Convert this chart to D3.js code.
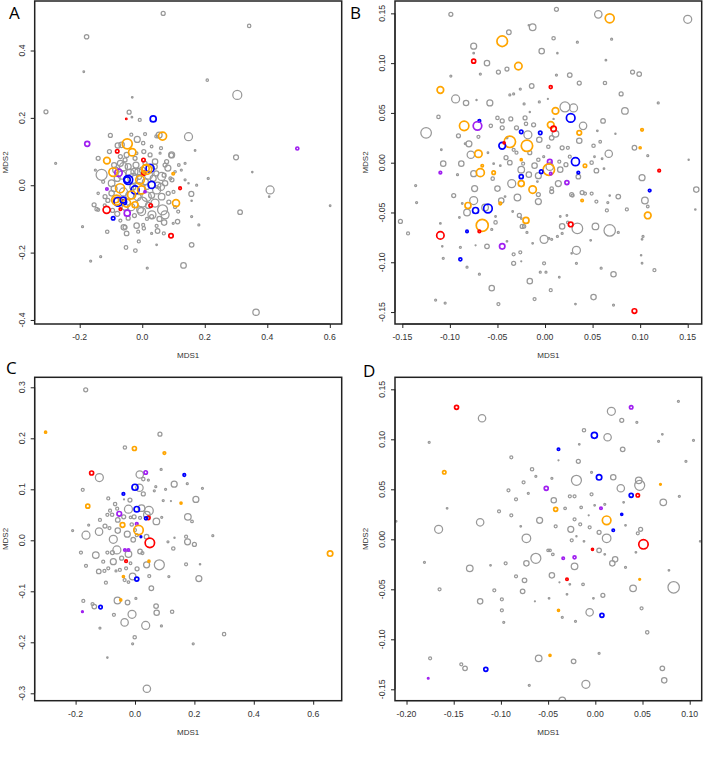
<!DOCTYPE html>
<html><head><meta charset="utf-8">
<script src="https://cdn.jsdelivr.net/npm/d3@7"></script>
<style>html,body{margin:0;padding:0;background:#fff}svg{display:block}</style>
</head><body>
<svg id="chart" width="703" height="768"></svg>
<script>
// ---------- DATA: [MDS1, MDS2, abundance, group] ----------
const groups = ["g","o","b","r","p"];
const groupColors = ["#999999","#FFA500","#0000FF","#FF0000","#A020F0"];

const ptsA = [
[0.067,0.510,2,"g"],[0.342,0.473,1.7,"g"],[-0.178,0.441,2.2,"g"],[-0.187,0.337,0.8,"g"],[0.208,0.312,1.2,"g"],[-0.032,0.261,0.8,"g"],[0.304,0.268,4.5,"g"],[-0.308,0.218,2,"g"],[-0.042,0.217,2,"g"],[-0.051,0.197,0.6,"r"],[-0.033,0.202,0.8,"g"],[-0.008,0.194,1.5,"g"],[0.035,0.197,3,"b"],[-0.176,0.123,2.5,"p"],[0.496,0.109,1.5,"p"],[-0.277,0.065,1,"g"],[0.300,0.083,2.5,"g"],[0.352,0.039,0.7,"g"],[0.211,0.020,1,"g"],[0.169,0.103,0.8,"g"],[0.148,0.144,4,"g"],[0.065,0.146,4,"o"],[0.054,0.149,3,"g"],[-0.048,0.123,5,"o"],[-0.032,0.098,3.7,"o"],[-0.102,0.148,2,"g"],[-0.016,0.136,3,"g"],[0.009,0.152,1.5,"g"],[-0.078,0.118,2.7,"g"],[-0.080,0.101,1.7,"r"],[-0.113,0.073,3.3,"o"],[-0.130,0.031,5.5,"g"],[-0.076,0.037,3.7,"p"],[-0.093,0.039,4.3,"o"],[0.004,0.075,1.7,"r"],[0.005,0.036,2,"r"],[0.025,0.050,4,"b"],[0.011,0.050,3.5,"o"],[0.099,0.034,1.2,"o"],[0.095,0.016,2,"g"],[0.078,0.070,2,"g"],[0.082,0.051,3,"g"],[0.117,0.060,1.3,"g"],[0.093,0.089,2.3,"g"],[-0.048,0.016,3,"b"],[0.409,-0.014,4,"g"],[0.157,-0.026,2.5,"g"],[0.121,-0.009,1.3,"r"],[0.148,0.006,0.7,"g"],[0.174,0.0,1,"g"],[-0.113,-0.011,1.2,"p"],[0.313,-0.080,2.3,"g"],[0.406,-0.034,0.7,"g"],[0.601,-0.061,0.8,"g"],[0.158,-0.046,0.7,"g"],[0.108,-0.053,3.5,"o"],[0.065,-0.073,5,"g"],[0.031,-0.088,4,"g"],[0.027,-0.060,1.7,"r"],[-0.002,-0.078,4,"g"],[-0.114,-0.073,3.5,"r"],[-0.048,-0.083,3,"p"],[-0.093,-0.098,1.7,"b"],[-0.070,-0.071,1.2,"r"],[-0.084,-0.044,2.7,"o"],[-0.058,-0.050,2.5,"b"],[-0.023,-0.058,3,"o"],[-0.154,-0.058,2,"g"],[-0.146,-0.071,1.7,"g"],[-0.191,-0.123,1,"g"],[-0.112,-0.138,1.7,"g"],[-0.059,-0.125,2.7,"g"],[-0.050,-0.143,2.3,"g"],[-0.018,-0.120,2.7,"g"],[0.005,-0.128,1.7,"g"],[-0.013,-0.138,1.5,"g"],[-0.011,-0.167,1.5,"g"],[0.049,-0.136,2.3,"g"],[0.030,-0.143,1,"g"],[0.070,-0.111,2.7,"g"],[0.069,-0.143,1.5,"g"],[0.113,-0.108,2.2,"g"],[0.092,-0.150,2.2,"r"],[0.181,-0.118,1,"g"],[0.158,-0.177,2.3,"g"],[0.046,-0.177,0.8,"g"],[-0.052,-0.185,1.8,"g"],[-0.022,-0.194,1.8,"g"],[-0.165,-0.225,1,"g"],[-0.133,-0.212,1,"g"],[0.016,-0.246,1,"g"],[0.132,-0.238,2.8,"g"],[0.364,-0.377,3.2,"g"],[-0.141,-0.024,1.2,"g"],
[0.014,0.047,5,"o"],[-0.045,0.016,4.5,"b"],[-0.071,-0.009,4.5,"o"],[-0.023,-0.014,4,"b"],[-0.002,-0.014,4,"o"],[0.030,0.001,3.5,"b"],[0.046,-0.014,4,"g"],[-0.007,0.016,4.3,"o"],[-0.034,-0.029,4,"o"],[-0.077,-0.049,4.3,"b"],[-0.082,-0.044,5,"o"],[-0.050,-0.053,4,"o"],[-0.061,-0.044,3,"b"],[0.009,-0.019,1,"p"],
[-0.066,0.120,2.7,"g"],[0.003,0.125,1.7,"g"],[0.030,0.115,1.3,"g"],[0.057,0.095,1,"g"],[0.094,0.090,3,"g"],[-0.018,0.095,1.3,"g"],[-0.141,0.080,2,"g"],[-0.055,0.075,2,"g"],[-0.023,0.080,2,"g"],[0.041,0.070,2.7,"g"],[0.073,0.060,2,"g"],[0.137,0.065,1,"g"],[0.009,0.065,2,"g"],[-0.039,0.036,4,"g"],[-0.013,0.040,3.3,"g"],[0.062,0.026,4,"g"],[0.073,0.006,2.7,"g"],[-0.098,0.006,3.3,"g"],[0.137,0.016,1,"g"],[-0.119,-0.034,2,"g"],[-0.098,-0.024,2.7,"g"],[0.014,-0.034,4.7,"g"],[0.062,-0.034,3.3,"g"],[0.083,-0.024,2,"g"],[0.041,-0.053,4,"g"],[-0.141,-0.073,1.5,"g"],[-0.007,-0.073,3.3,"g"],[0.073,-0.088,4,"g"],[-0.045,-0.098,2,"g"],[0.030,-0.093,2,"g"],[0.115,-0.078,1.5,"g"],[0.158,-0.093,1,"g"],[-0.055,-0.125,2,"g"],[0.003,-0.118,1.5,"g"],[0.046,-0.121,1.5,"g"],[0.099,-0.113,1,"g"],
[-0.030,0.020,5,"g"],[0.020,0.030,4,"g"],[-0.060,0.055,4,"g"],[0.000,-0.050,5,"g"],[-0.040,-0.030,4,"g"],[0.030,-0.030,3,"g"],[-0.020,0.060,3,"g"],[0.050,0.000,3,"g"],[-0.080,0.020,3,"g"],[-0.010,-0.010,6,"g"],[0.010,0.010,3,"g"],[-0.055,-0.065,3,"g"],[-0.090,0.060,2.5,"g"],[-0.070,0.085,2,"g"],[0.025,0.090,2,"g"],[0.045,0.035,2.5,"g"],[-0.110,-0.045,2,"g"],[-0.095,-0.075,2,"g"],[0.085,-0.050,2,"g"],[0.100,-0.020,1.5,"g"],[-0.025,-0.090,2,"g"],[0.015,-0.100,1.5,"g"],[-0.070,-0.105,1.5,"g"],[0.060,0.110,1.5,"g"],[-0.035,0.150,1.5,"g"],[0.105,0.040,1.2,"g"],[-0.125,0.010,1.5,"g"],[-0.150,0.045,1,"g"],[0.125,0.045,1,"g"],[0.045,0.145,1.5,"g"],
[-0.085,0.045,3,"g"],[-0.065,0.030,4,"g"],[-0.045,0.055,3,"g"],[-0.025,0.040,3.5,"g"],[0.000,0.045,3,"g"],[0.035,0.020,3,"g"],[0.060,-0.005,3.5,"g"],[-0.015,-0.035,3.5,"g"],[-0.060,-0.020,4,"g"],[-0.090,-0.010,3,"g"],[0.020,-0.060,3,"g"],[-0.035,-0.065,3.5,"g"],[0.040,0.055,2.5,"g"],[-0.050,0.090,2.5,"g"],[0.005,0.100,2,"g"],[-0.105,0.100,2,"g"],[0.070,0.030,2,"g"],[0.055,-0.100,2.5,"g"],[-0.080,-0.085,2.5,"g"],[-0.010,0.025,2.5,"g"],[0.015,-0.005,2.5,"g"],[-0.030,-0.005,3,"g"],[-0.070,0.065,3,"g"],[0.090,0.020,1.5,"g"],[0.105,-0.065,1.5,"g"],[-0.120,-0.060,1.5,"g"]
];

const ptsB = [
[-0.099,0.149,2,"g"],[0.012,0.154,2,"g"],[0.056,0.149,3.7,"g"],[0.068,0.145,4.5,"o"],[0.150,0.144,4,"g"],[-0.038,0.131,2.3,"g"],[-0.013,0.136,3.3,"g"],[-0.017,0.138,0.7,"g"],[-0.045,0.122,5.3,"o"],[-0.075,0.117,3,"g"],[-0.075,0.110,0.8,"g"],[-0.0035,0.112,2.7,"g"],[0.009,0.125,1.7,"g"],[0.034,0.121,1,"g"],[0.013,0.110,0.7,"g"],[0.070,0.124,1,"g"],[-0.075,0.102,2,"r"],[-0.061,0.100,2.7,"g"],[-0.049,0.091,2,"g"],[-0.040,0.094,2,"g"],[-0.028,0.097,3.7,"o"],[0.064,0.103,0.8,"g"],[0.092,0.091,2,"g"],[0.099,0.089,2.3,"g"],[0.026,0.088,2.3,"g"],[0.012,0.088,1,"g"],[-0.068,0.089,1,"g"],[-0.099,0.087,1,"g"],[-0.110,0.073,3.3,"o"],[-0.014,0.077,2.3,"g"],[0.006,0.076,1.5,"r"],[0.036,0.080,2,"g"],[0.063,0.080,1.7,"g"],[-0.026,0.074,1,"g"],[-0.037,0.068,1,"g"],[-0.033,0.069,1,"g"],[0.080,0.069,2,"g"],[-0.094,0.064,4,"g"],[-0.083,0.060,2.7,"g"],[-0.072,0.063,0.6,"g"],[-0.058,0.060,3,"g"],[-0.022,0.059,1,"g"],[-0.006,0.061,1,"g"],[0.003,0.064,0.5,"g"],[0.021,0.056,5,"g"],[0.030,0.055,4,"g"],[0.011,0.052,3.3,"o"],[0.084,0.052,3.3,"g"],[0.119,0.060,1,"g"],[-0.016,0.051,0.6,"g"],[-0.112,0.046,1.7,"g"],[0.027,0.045,4.3,"b"],[0.009,0.044,0.6,"g"],[0.061,0.042,2.3,"g"],[-0.069,0.042,1.3,"b"],[-0.125,0.030,5.3,"g"],[-0.085,0.037,4.7,"o"],[-0.071,0.037,4.3,"p"],[-0.057,0.037,1.7,"g"],[-0.050,0.045,1.7,"g"],[-0.045,0.042,2,"g"],[-0.036,0.044,2,"g"],[-0.030,0.035,2,"g"],[-0.020,0.039,1.7,"g"],[-0.012,0.038,2,"g"],[-0.045,0.035,2,"g"],[-0.021,0.045,2,"g"],[0.006,0.038,3.3,"o"],[0.009,0.034,2.7,"r"],[0.011,0.029,3.3,"g"],[0.040,0.037,3.7,"g"],[0.036,0.030,2.3,"o"],[0.102,0.033,1.3,"o"],[0.055,0.032,0.8,"g"],[0.074,0.029,0.6,"g"],[-0.091,0.027,2,"g"],[-0.080,0.019,3,"g"],[-0.084,0.019,0.8,"g"],[-0.070,0.026,1.5,"g"],[-0.025,0.031,1.7,"b"],[-0.005,0.030,1.7,"b"],[-0.018,0.028,4,"g"],[-0.037,0.021,5.7,"o"],[-0.045,0.017,3.3,"b"],[-0.043,0.020,1,"r"],[-0.019,0.017,5.7,"o"],[-0.040,0.025,1,"g"],[-0.006,0.023,2.7,"g"],[0.007,0.025,2.3,"g"],[0.036,0.022,2.7,"g"],[0.051,0.017,1.7,"g"],[0.058,0.021,1.3,"g"],[0.0035,0.016,1.7,"g"],[0.018,0.015,2,"g"],[0.024,0.015,1.5,"g"],[-0.033,0.013,1.5,"g"],[0.094,0.015,2.3,"g"],[0.100,0.015,1,"o"],[-0.109,0.013,0.8,"g"],[0.108,0.007,1,"g"],[-0.078,0.008,3.7,"g"],[-0.070,0.009,3.7,"o"],[-0.060,0.010,0.8,"g"],[-0.041,0.005,2,"g"],[-0.030,0.010,1.5,"g"],[-0.016,0.010,2,"g"],[-0.007,0.003,1.7,"g"],[-0.0014,0.006,1,"g"],[-0.025,0.003,1,"o"],[0.005,0.001,2.3,"p"],[0.006,0.0,0.8,"g"],[0.067,0.009,3.7,"g"],[0.052,0.006,0.8,"g"],[0.060,0.004,0.8,"g"],[0.032,0.001,4,"b"],[0.022,-0.002,2,"g"],[0.015,0.001,1.5,"g"],[0.026,0.006,1.5,"g"],[0.049,0.0,1.7,"g"],[0.151,0.003,0.6,"g"],[-0.107,-0.001,2.7,"g"],[-0.088,-0.001,2.7,"g"],[-0.054,-0.001,0.8,"g"],[-0.047,-0.003,0.8,"g"],[-0.037,0.0,2.3,"g"],[-0.023,-0.001,1.5,"g"],[-0.011,-0.003,2.7,"g"],[0.004,-0.007,5.7,"o"],[0.005,-0.004,3.7,"g"],[0.042,-0.003,1.7,"o"],[0.054,-0.008,2.3,"g"],[-0.110,-0.010,1.3,"p"],[-0.092,-0.012,1,"g"],[-0.075,-0.011,3,"g"],[-0.068,-0.010,4,"o"],[-0.066,-0.003,1.2,"o"],[-0.054,-0.010,1.7,"o"],[-0.055,-0.016,1.7,"g"],[-0.025,-0.014,2,"b"],[-0.025,-0.007,3.3,"g"],[-0.004,-0.009,1.7,"b"],[-0.017,-0.012,2.7,"g"],[-0.007,-0.013,3,"g"],[0.006,-0.011,1.2,"p"],[0.016,-0.007,2.7,"g"],[0.035,-0.010,1.3,"b"],[0.035,-0.014,2.3,"g"],[0.062,-0.006,0.8,"g"],[0.102,-0.015,3,"g"],[0.120,-0.008,1.3,"r"],[-0.136,-0.023,1,"g"],[-0.074,-0.026,3,"g"],[-0.050,-0.026,2.7,"g"],[-0.035,-0.021,4,"g"],[-0.025,-0.021,3,"o"],[-0.013,-0.027,3.7,"o"],[-0.008,-0.019,0.8,"g"],[0.014,-0.021,3,"g"],[0.007,-0.026,1.7,"g"],[0.023,-0.020,2,"p"],[0.028,-0.032,2,"g"],[0.110,-0.028,1.3,"b"],[0.159,-0.027,2.7,"g"],[-0.096,-0.033,2,"g"],
[-0.135,-0.040,1,"g"],[-0.152,-0.059,2,"g"],[-0.144,-0.071,1.5,"g"],[-0.075,-0.038,4,"g"],[-0.081,-0.043,3,"o"],[-0.087,-0.041,0.8,"g"],[-0.082,-0.050,3.3,"g"],[-0.073,-0.048,3,"b"],[-0.063,-0.045,3.3,"g"],[-0.060,-0.046,4.3,"b"],[-0.090,-0.055,0.8,"g"],[-0.052,-0.054,0.8,"g"],[-0.047,-0.041,1.3,"o"],[-0.046,-0.038,2.7,"g"],[-0.042,-0.034,0.8,"g"],[-0.029,-0.035,3.3,"g"],[-0.007,-0.032,2,"g"],[-0.007,-0.039,3,"g"],[-0.034,-0.049,0.8,"g"],[-0.027,-0.053,2,"g"],[-0.025,-0.056,0.8,"g"],[-0.020,-0.058,3,"o"],[-0.052,-0.060,1.7,"g"],[-0.056,-0.067,1,"g"],[-0.066,-0.063,6,"o"],[-0.069,-0.069,1.3,"r"],[-0.082,-0.069,1.2,"b"],[-0.110,-0.073,3.7,"r"],[-0.110,-0.061,0.8,"g"],[-0.108,-0.084,0.7,"g"],[-0.107,-0.096,1,"g"],[-0.089,-0.085,1,"g"],[-0.089,-0.097,1.5,"b"],[-0.082,-0.105,1,"g"],[-0.069,-0.112,1,"g"],[-0.061,-0.084,2.3,"g"],[-0.073,-0.083,0.5,"g"],[-0.045,-0.084,2.7,"p"],[-0.040,-0.079,0.8,"g"],[-0.033,-0.101,2,"g"],[-0.033,-0.092,1.5,"g"],[-0.026,-0.090,1.5,"g"],[-0.025,-0.099,0.5,"g"],[-0.024,-0.064,2,"g"],[-0.022,-0.064,1.7,"g"],[-0.019,-0.070,1,"g"],[-0.013,-0.081,0.8,"g"],[-0.001,-0.077,4,"g"],[0.004,-0.076,1,"g"],[0.007,-0.077,1,"g"],[0.013,-0.074,1,"g"],[0.018,-0.071,1,"g"],[0.016,-0.054,0.8,"g"],[0.023,-0.053,0.8,"g"],[0.018,-0.064,2.7,"g"],[0.024,-0.060,1.3,"g"],[0.027,-0.062,2.3,"r"],[0.034,-0.066,5.3,"g"],[0.053,-0.064,3.3,"g"],[0.068,-0.068,5.7,"g"],[0.077,-0.070,1,"g"],[0.048,-0.078,0.8,"g"],[0.033,-0.088,4,"g"],[0.028,-0.091,0.7,"g"],[0.033,-0.101,1,"g"],[0.059,-0.106,1,"g"],[0.072,-0.112,2.7,"g"],[0.039,-0.030,2,"g"],[0.039,-0.038,1.2,"o"],[0.029,-0.033,1.5,"g"],[0.042,-0.031,1.5,"g"],[0.049,-0.031,1.5,"g"],[0.054,-0.039,1.5,"g"],[0.066,-0.040,1,"g"],[0.068,-0.033,0.7,"g"],[0.065,-0.048,1.5,"g"],[0.077,-0.034,2.3,"g"],[0.086,-0.047,1.5,"g"],[0.105,-0.038,3.3,"g"],[0.108,-0.044,1.3,"g"],[0.108,-0.053,3.3,"o"],[0.158,-0.047,0.7,"g"],[0.103,-0.074,1,"g"],[0.102,-0.077,0.8,"g"],[0.101,-0.093,0.7,"g"],[0.102,-0.101,0.8,"g"],[0.115,-0.108,1.5,"g"],[-0.005,-0.110,1,"g"],[0.001,-0.110,1,"g"],[-0.001,-0.101,1.5,"g"],[0.015,-0.115,0.8,"g"],[-0.016,-0.119,2.7,"g"],[-0.056,-0.126,2.7,"g"],[-0.011,-0.137,1.5,"g"],[-0.049,-0.142,1.5,"g"],[0.006,-0.128,1.5,"g"],[-0.115,-0.138,1,"g"],[-0.105,-0.141,1,"g"],[0.032,-0.142,0.8,"g"],[0.051,-0.135,2.7,"g"],[0.072,-0.143,1,"g"],[0.094,-0.149,2.3,"r"],[0.007,-0.029,2,"g"]
];

const ptsC = [
[-0.166,0.295,2,"g"],[-0.301,0.212,1,"o"],[0.084,0.208,2,"g"],[-0.034,0.182,1.7,"g"],[-0.002,0.180,2,"o"],[0.099,0.171,1.3,"o"],[0.088,0.139,1,"g"],[-0.146,0.132,2,"r"],[-0.120,0.123,4,"g"],[0.016,0.129,3.7,"g"],[0.036,0.133,1.7,"p"],[0.028,0.120,1.7,"g"],[0.045,0.118,1,"g"],[0.166,0.128,1.3,"b"],[-0.176,0.099,1.5,"g"],[0.000,0.104,3,"b"],[0.015,0.103,3.7,"g"],[0.028,0.091,2,"g"],[0.070,0.105,1,"g"],[0.103,0.100,1,"g"],[0.065,0.097,1,"g"],[0.132,0.110,3,"g"],[0.176,0.111,1,"g"],[0.227,0.102,1,"g"],[-0.039,0.091,1.3,"b"],[-0.017,0.079,2,"g"],[-0.090,0.082,1.5,"g"],[-0.037,0.080,0.5,"g"],[0.095,0.078,1,"g"],[0.121,0.077,0.5,"g"],[0.155,0.073,1,"o"],[0.205,0.080,3,"g"],[-0.159,0.067,2,"o"],[-0.067,0.071,1.7,"g"],[-0.060,0.062,1.5,"g"],[-0.022,0.061,4,"g"],[0.006,0.061,2.7,"b"],[0.022,0.063,3.3,"g"],[0.047,0.058,4.3,"g"],[0.040,0.050,3.3,"g"],[-0.084,0.058,1.5,"g"],[-0.093,0.050,1.5,"g"],[-0.077,0.050,1.7,"g"],[-0.053,0.052,2.3,"p"],[-0.058,0.040,2.3,"g"],[-0.038,0.046,2,"g"],[-0.015,0.045,1.3,"g"],[-0.003,0.046,2,"g"],[0.017,0.044,1.5,"g"],[0.045,0.044,1.7,"r"],[0.037,0.043,1.5,"b"],[0.090,0.045,1,"g"],[0.178,0.046,3.3,"g"],[0.192,0.037,1.3,"g"],[0.072,0.037,3.3,"g"],[-0.118,0.040,1.5,"g"],[-0.156,0.030,1,"g"],[-0.101,0.028,2,"g"],[-0.086,0.024,1.5,"g"],[-0.042,0.030,2.3,"o"],[-0.011,0.031,1.7,"g"],[0.006,0.032,1.3,"p"],[-0.121,0.017,3.7,"g"],[-0.165,0.010,4,"g"],[-0.210,0.019,1,"g"],[-0.058,0.019,2.7,"g"],[-0.026,0.012,3,"g"],[0.012,0.020,4.7,"o"],[0.020,0.007,0.8,"b"],[0.050,-0.005,4.7,"r"],[0.0,0.020,1.5,"g"],[0.039,0.007,2.3,"g"],[-0.073,0.002,4,"g"],[-0.006,0.001,2.3,"g"],[0.006,0.010,1.5,"g"],[0.111,-0.003,1,"g"],[0.133,0.005,0.6,"g"],[0.172,0.007,1.5,"g"],[0.177,-0.003,3,"g"],[0.200,-0.008,2,"g"],[0.262,0.009,1,"g"],[0.129,-0.016,1.7,"g"],[0.657,-0.026,2.7,"o"],[-0.182,-0.024,1.5,"g"],[-0.132,-0.029,3.3,"g"],[-0.093,-0.024,1.5,"g"],[-0.076,-0.024,2,"g"],[-0.061,-0.019,4,"g"],[-0.034,-0.019,1.2,"p"],[-0.022,-0.019,1.2,"p"],[-0.022,-0.027,3.3,"g"],[-0.045,-0.035,2,"g"],[0.017,-0.022,2.3,"g"],[0.025,-0.025,1.5,"g"],[-0.030,-0.041,1.3,"r"],[-0.073,-0.042,3,"g"],[-0.107,-0.042,1.5,"g"],[-0.165,-0.050,1.5,"g"],[-0.015,-0.045,1.3,"g"],[0.007,-0.056,2,"g"],[0.039,-0.048,3,"g"],[0.047,-0.041,1,"o"],[0.082,-0.048,5,"g"],[0.172,-0.047,1.5,"g"],[0.219,-0.047,0.7,"g"],[-0.122,-0.061,2.3,"g"],[-0.103,-0.060,1.5,"g"],[-0.090,-0.055,1.5,"g"],[-0.064,-0.060,1,"g"],[-0.051,-0.058,1.5,"g"],[-0.030,-0.055,1.5,"g"],[-0.008,-0.071,3.3,"g"],[0.006,-0.076,2,"b"],[-0.039,-0.071,1,"o"],[0.048,-0.070,1.5,"g"],[0.215,-0.075,3,"g"],[0.114,-0.071,1,"g"],
[-0.098,-0.083,1.5,"g"],[-0.035,-0.078,1.5,"g"],[-0.022,-0.082,1.3,"g"],[0.055,-0.094,2.3,"g"],[-0.174,-0.119,1.5,"g"],[-0.143,-0.125,1.5,"g"],[-0.137,-0.130,2.3,"g"],[-0.116,-0.131,1.7,"b"],[-0.059,-0.118,3.3,"g"],[-0.048,-0.117,1,"o"],[-0.025,-0.122,2.3,"g"],[0.003,-0.114,1,"g"],[0.071,-0.129,2.3,"g"],[0.073,-0.142,2.7,"g"],[0.125,-0.140,1.7,"g"],[-0.177,-0.140,0.8,"p"],[-0.071,-0.146,1.5,"g"],[-0.010,-0.145,4,"g"],[-0.035,-0.161,3.7,"g"],[0.036,-0.167,4,"g"],[-0.118,-0.172,1,"g"],[0.089,-0.168,1,"g"],[-0.001,-0.190,1.7,"g"],[-0.008,-0.203,1,"g"],[0.196,-0.203,1,"g"],[0.300,-0.184,1.7,"g"],[-0.093,-0.230,0.7,"g"],[0.040,-0.291,3.7,"g"]
];

const ptsD = [
[-0.147,0.132,2,"r"],[-0.120,0.121,3.7,"g"],[-0.176,0.097,1,"g"],[0.017,0.128,4,"g"],[0.038,0.132,1.7,"p"],[0.028,0.119,2,"g"],[0.044,0.117,1,"g"],[0.088,0.138,1,"g"],[-0.001,0.104,3,"b"],[0.013,0.102,3.7,"g"],[-0.012,0.109,1.7,"g"],[-0.039,0.090,1.2,"b"],[0.029,0.090,2.3,"g"],[0.071,0.105,0.8,"g"],[0.067,0.098,1,"g"],[0.104,0.099,1,"g"],[-0.017,0.095,0.8,"g"],[-0.089,0.082,1.5,"g"],[-0.039,0.079,0.5,"g"],[-0.018,0.078,2,"g"],[0.096,0.078,1,"g"],[-0.160,0.067,1.7,"o"],[-0.067,0.070,1.7,"g"],[-0.004,0.067,1,"g"],[-0.076,0.057,1.5,"g"],[-0.063,0.063,1,"g"],[-0.046,0.061,1,"g"],[-0.020,0.059,5,"g"],[0.004,0.062,2.7,"b"],[0.019,0.062,2.7,"g"],[0.046,0.059,3.3,"g"],[0.047,0.054,5,"g"],[0.027,0.051,3.7,"g"],[0.069,0.055,0.8,"o"],[-0.052,0.051,2,"p"],[-0.092,0.049,1.5,"g"],[-0.071,0.046,1,"g"],[-0.004,0.045,1.5,"g"],[-0.027,0.043,1.5,"g"],[-0.022,0.043,1.5,"g"],[-0.084,0.040,1.5,"g"],[-0.044,0.039,2.7,"g"],[0.038,0.044,2,"b"],[0.045,0.044,1.7,"r"],[0.089,0.043,1,"g"],[-0.157,0.031,0.8,"g"],[-0.102,0.028,1.5,"g"],[-0.089,0.024,1.5,"g"],[-0.042,0.030,2,"o"],[-0.032,0.031,1.3,"g"],[-0.015,0.032,1.3,"g"],[-0.0007,0.034,0.8,"g"],[0.006,0.031,1.2,"p"],[0.010,0.035,1,"g"],[0.072,0.037,3.3,"g"],[0.030,0.037,0.8,"g"],[-0.007,0.024,0.5,"g"],[0.012,0.019,4.3,"o"],[0.028,0.025,1,"b"],[-0.059,0.019,3,"g"],[-0.079,0.013,0.8,"g"],[-0.042,0.013,1.5,"g"],[-0.022,0.020,1.5,"g"],[-0.016,0.015,1.5,"g"],[-0.006,0.012,1.5,"g"],[0.032,0.014,0.8,"g"],[-0.026,0.010,3,"g"],[0.004,0.007,2,"g"],[0.019,0.009,1.2,"b"],[0.045,0.006,1.5,"g"],[0.048,0.010,2,"g"],[-0.166,0.010,4,"g"],[-0.122,0.017,3.7,"g"],[-0.073,0.001,4.3,"g"],[-0.025,-0.001,1.5,"g"],[-0.020,0.003,0.6,"g"],[-0.012,-0.002,0.8,"g"],[0.012,0.001,4.3,"g"],[0.051,-0.005,4.7,"r"],[0.043,-0.013,0.8,"g"],[0.111,-0.002,0.7,"g"],[-0.211,0.018,0.8,"g"],[-0.063,-0.019,5,"g"],[-0.073,-0.024,2.7,"g"],[-0.050,-0.011,1.3,"g"],[-0.048,-0.011,1.3,"g"],[-0.045,-0.015,1.3,"g"],[-0.034,-0.019,1.2,"p"],[-0.022,-0.018,1.5,"p"],[-0.022,-0.027,3.3,"g"],[-0.003,-0.010,1,"r"],[0.004,-0.011,2.3,"g"],[0.010,-0.015,0.8,"g"],[0.018,-0.024,2.7,"g"],[0.021,-0.020,2.7,"g"],[0.032,-0.028,1,"g"],[-0.181,-0.023,1,"g"],[-0.111,-0.026,0.8,"g"],[-0.095,-0.024,1.5,"g"],[-0.133,-0.029,3.3,"g"],[-0.046,-0.036,2.7,"g"],[-0.084,-0.037,1.5,"g"],[-0.075,-0.041,2.3,"g"],[-0.030,-0.040,1.2,"r"],[0.047,-0.040,0.8,"o"],[0.078,-0.031,0.8,"g"],
[-0.027,-0.045,0.8,"g"],[-0.038,-0.043,0.5,"g"],[-0.013,-0.045,1.3,"g"],[0.040,-0.049,3.3,"g"],[0.083,-0.048,5.7,"g"],[0.008,-0.056,2,"g"],[-0.002,-0.059,0.8,"g"],[-0.030,-0.055,0.8,"g"],[-0.049,-0.059,0.8,"g"],[-0.064,-0.062,0.5,"g"],[-0.077,-0.052,2.3,"g"],[-0.107,-0.051,1.5,"g"],[-0.099,-0.060,1.5,"g"],[-0.099,-0.071,1.5,"g"],[-0.097,-0.083,1,"g"],[-0.122,-0.062,2.7,"g"],[-0.165,-0.050,1.5,"g"],[-0.006,-0.073,3.7,"g"],[0.007,-0.076,2,"b"],[-0.039,-0.071,1,"o"],[-0.035,-0.078,1,"g"],[-0.021,-0.082,1,"g"],[0.049,-0.069,1.5,"g"],[0.055,-0.093,1.7,"g"],[0.004,-0.114,1,"g"],[-0.060,-0.119,3.3,"g"],[-0.048,-0.116,1,"o"],[-0.023,-0.122,2.3,"g"],[-0.175,-0.119,1.5,"g"],[-0.142,-0.125,1.5,"g"],[-0.138,-0.129,2.3,"g"],[-0.116,-0.130,2,"b"],[-0.177,-0.139,0.7,"p"],[-0.070,-0.146,1,"g"],[-0.010,-0.145,4,"g"],[-0.035,-0.161,3.3,"g"],[0.071,-0.129,2.3,"g"],[0.073,-0.141,2.7,"g"]
];

// tick values and labels
const ticksA_x = [-0.2,0,0.2,0.4,0.6], labelsA_x = ["-0.2","0.0","0.2","0.4","0.6"];
const ticksA_y = [-0.4,-0.2,0,0.2,0.4], labelsA_y = ["-0.4","-0.2","0.0","0.2","0.4"];
const ticksB = [-0.15,-0.10,-0.05,0,0.05,0.10,0.15], labelsB = ["-0.15","-0.10","-0.05","0.00","0.05","0.10","0.15"];
const ticksC_x = [-0.2,0,0.2,0.4,0.6], labelsC_x = ["-0.2","0.0","0.2","0.4","0.6"];
const ticksC_y = [-0.3,-0.2,-0.1,0,0.1,0.2,0.3], labelsC_y = ["-0.3","-0.2","-0.1","0.0","0.1","0.2","0.3"];
const ticksD_x = [-0.20,-0.15,-0.10,-0.05,0,0.05,0.10], labelsD_x = ["-0.20","-0.15","-0.10","-0.05","0.00","0.05","0.10"];
const ticksD_y = [-0.15,-0.10,-0.05,0,0.05,0.10,0.15], labelsD_y = ["-0.15","-0.10","-0.05","0.00","0.05","0.10","0.15"];
const panelLetters = ["A","B","C","D"];
const xTitle = "MDS1", yTitle = "MDS2";

// ---------- LAYOUT ----------
const panels = [
  {pts:ptsA, box:[34.7,1,341.7,324], xd:[-0.344,0.638], yd:[-0.412,0.547], xt:ticksA_x, xl:labelsA_x, yt:ticksA_y, yl:labelsA_y, lp:[9,18.5]},
  {pts:ptsB, box:[395,1,701.7,324], xd:[-0.1577,0.1647], yd:[-0.162,0.1624], xt:ticksB, xl:labelsB, yt:ticksB, yl:labelsB, lp:[350,19]},
  {pts:ptsC, box:[34.7,377.3,341.7,700.7], xd:[-0.3377,0.696], yd:[-0.3145,0.3196], xt:ticksC_x, xl:labelsC_x, yt:ticksC_y, yl:labelsC_y, lp:[6,373.5]},
  {pts:ptsD, box:[395,377.3,701.7,700.7], xd:[-0.2122,0.1127], yd:[-0.1614,0.162], xt:ticksD_x, xl:labelsD_x, yt:ticksD_y, yl:labelsD_y, lp:[363,377]}
];

const svg = d3.select("#chart");
const color = d3.scaleOrdinal().domain(groups).range(groupColors);
const rScale = d3.scaleLinear().domain([0,6]).range([0,6]);
const font = "'Liberation Sans', Arial, sans-serif";

panels.forEach((p, i) => {
  const [x0,y0,x1,y1] = p.box;
  const x = d3.scaleLinear().domain(p.xd).range([x0,x1]);
  const y = d3.scaleLinear().domain(p.yd).range([y1,y0]);
  const g = svg.append("g");

  g.append("clipPath").attr("id","clip"+i).append("rect")
    .attr("x",x0).attr("y",y0).attr("width",x1-x0).attr("height",y1-y0);

  const sorted = p.pts.filter(d=>d[3]==="g").concat(p.pts.filter(d=>d[3]!=="g"));
  g.append("g").attr("clip-path","url(#clip"+i+")")
    .selectAll("circle").data(sorted).join("circle")
    .attr("cx", d=>x(d[0])).attr("cy", d=>y(d[1]))
    .attr("r", d=>rScale(d[2]))
    .attr("fill","none")
    .attr("stroke", d=>color(d[3]))
    .attr("stroke-width", d=> d[3]==="g" ? 1.25 : 1.7);

  // axes (ticks)
  const ax = g.append("g").attr("transform",`translate(0,${y1})`)
    .call(d3.axisBottom(x).tickValues(p.xt).tickFormat("").tickSize(4).tickSizeOuter(0));
  const ay = g.append("g").attr("transform",`translate(${x0},0)`)
    .call(d3.axisLeft(y).tickValues(p.yt).tickFormat("").tickSize(4).tickSizeOuter(0));
  ax.select(".domain").attr("d",`M${x(p.xt[0])},0H${x(p.xt[p.xt.length-1])}`).attr("stroke","#222");
  ay.select(".domain").attr("d",`M0,${y(p.yt[0])}V${y(p.yt[p.yt.length-1])}`).attr("stroke","#222");
  g.selectAll(".tick line").attr("stroke","#222");

  // tick labels
  g.append("g").selectAll("text").data(p.xt).join("text")
    .attr("x", d=>x(d)).attr("y", y1+13).attr("dy","0.35em")
    .attr("text-anchor","middle").attr("font-family",font).attr("font-size",8.7).attr("fill","#333")
    .text((d,j)=>p.xl[j]);
  g.append("g").selectAll("text").data(p.yt).join("text")
    .attr("transform", d=>`translate(${x0-13},${y(d)}) rotate(-90)`).attr("dy","0.35em")
    .attr("text-anchor","middle").attr("font-family",font).attr("font-size",8.7).attr("fill","#333")
    .text((d,j)=>p.yl[j]);

  // titles
  g.append("text").attr("x",(x0+x1)/2).attr("y",y1+31).attr("dy","0.35em")
    .attr("text-anchor","middle").attr("font-family",font).attr("font-size",8).attr("fill","#333").text(xTitle);
  g.append("text").attr("transform",`translate(${x0-30},${(y0+y1)/2}) rotate(-90)`).attr("dy","0.35em")
    .attr("text-anchor","middle").attr("font-family",font).attr("font-size",8).attr("fill","#333").text(yTitle);

  // box
  g.append("rect").attr("x",x0).attr("y",y0).attr("width",x1-x0).attr("height",y1-y0)
    .attr("fill","none").attr("stroke","#222").attr("stroke-width",1.5);

  // panel letter
  svg.append("text").attr("x",p.lp[0]).attr("y",p.lp[1])
    .attr("font-family","'Open Sans', 'Liberation Sans', sans-serif").attr("font-size",17).attr("fill","#000")
    .text(panelLetters[i]);
});
</script>
</body></html>
